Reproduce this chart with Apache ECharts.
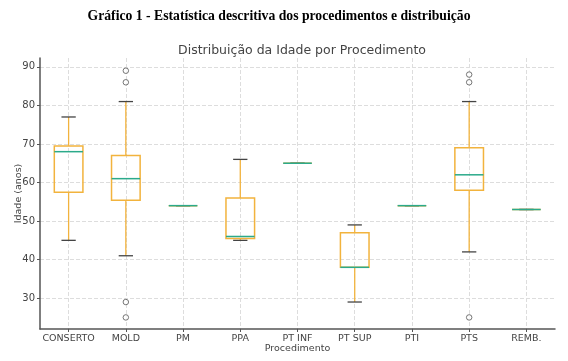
<!DOCTYPE html>
<html>
<head>
<meta charset="utf-8">
<script src="https://cdn.jsdelivr.net/npm/echarts@6/dist/echarts.min.js"></script>
<style>html,body{margin:0;padding:0;background:#fff}#c{width:568px;height:361px}</style>
</head>
<body>
<div id="c"></div>
<script>
var categories = ['CONSERTO','MOLD','PM','PPA','PT INF','PT SUP','PTI','PTS','REMB.'];
// [lower whisker, Q1, median, Q3, upper whisker]
var boxStats = [
  [45, 57.5, 68, 69.5, 77],
  [41, 55.4, 61, 67, 81],
  [54, 54, 54, 54, 54],
  [45, 45.5, 46, 56, 66],
  [65, 65, 65, 65, 65],
  [29, 38, 38, 47, 49],
  [54, 54, 54, 54, 54],
  [42, 58, 62, 69, 81],
  [53, 53, 53, 53, 53]
];
// outliers: [category index, value]
var outliers = [[1, 89], [1, 86], [1, 29], [1, 25], [7, 88], [7, 86], [7, 25]];
var yTicks = [30, 40, 50, 60, 70, 80, 90];
var xTicks = categories.map(function (c, i) { return i; });

var boxData = boxStats.map(function (s, i) { return [i].concat(s); });

var chart = echarts.init(document.getElementById('c'));
var BOX = '#F2B33D', MED = '#2BAA8A', CAP = '#444';
chart.setOption({
  animation: false,
  title: [
    { text: 'Gráfico 1 - Estatística descritiva dos procedimentos e distribuição', left: 274, textAlign: 'center', top: 4,
      textStyle: { fontFamily: 'Liberation Serif', fontWeight: 'bold', fontSize: 13.7, color: '#000' } },
    { text: 'Distribuição da Idade por Procedimento', left: 297, textAlign: 'center', top: 39,
      textStyle: { fontFamily: 'DejaVu Sans', fontWeight: 'normal', fontSize: 12.5, color: '#444' } }
  ],
  grid: { left: 40, right: 13, top: 58, bottom: 32, containLabel: false, outerBoundsMode: 'none' },
  xAxis: {
    type: 'value', min: -0.5, max: 8.5,
    name: 'Procedimento', nameLocation: 'middle', nameGap: 15, nameMoveOverlap: false,
    nameTextStyle: { fontFamily: 'DejaVu Sans', fontSize: 9.5, color: '#444' },
    axisLine: { onZero: false, lineStyle: { color: '#555', width: 1.5 } },
    axisTick: { show: true, length: 3, customValues: xTicks, lineStyle: { color: '#555' } },
    axisLabel: { fontFamily: 'DejaVu Sans', fontSize: 9.5, color: '#444', margin: 5, customValues: xTicks,
      formatter: function (v) { return categories[Math.round(v)] || ''; } },
    splitLine: { show: true, lineStyle: { color: '#ddd', type: 'dashed', width: 1 } }
  },
  yAxis: {
    type: 'value', min: 22, max: 92.3,
    name: 'Idade (anos)', nameLocation: 'middle', nameGap: 16, nameMoveOverlap: false,
    nameTextStyle: { fontFamily: 'DejaVu Sans', fontSize: 9.5, color: '#444' },
    axisLine: { show: true, onZero: false, lineStyle: { color: '#555', width: 1.5 } },
    axisTick: { show: true, length: 3, customValues: yTicks, lineStyle: { color: '#555' } },
    axisLabel: { fontFamily: 'DejaVu Sans', fontSize: 10, color: '#444', margin: 5, customValues: yTicks },
    splitLine: { show: true, lineStyle: { color: '#ddd', type: 'dashed', width: 1 } }
  },
  series: [
    {
      type: 'custom',
      data: boxData,
      encode: { x: 0, y: [1, 2, 3, 4, 5] },
      renderItem: function (params, api) {
        var x = api.value(0);
        var lo = api.coord([x, api.value(1)]);
        var q1 = api.coord([x, api.value(2)]);
        var md = api.coord([x, api.value(3)]);
        var q3 = api.coord([x, api.value(4)]);
        var hi = api.coord([x, api.value(5)]);
        var bw = api.size([1, 0])[0] * 0.5;
        var cw = bw * 0.5;
        var cx = md[0];
        return {
          type: 'group',
          children: [
            { type: 'line', shape: { x1: cx, y1: q1[1], x2: cx, y2: lo[1] }, style: { stroke: BOX, lineWidth: 1.3 } },
            { type: 'line', shape: { x1: cx, y1: q3[1], x2: cx, y2: hi[1] }, style: { stroke: BOX, lineWidth: 1.3 } },
            { type: 'line', shape: { x1: cx - cw / 2, y1: lo[1], x2: cx + cw / 2, y2: lo[1] }, style: { stroke: CAP, lineWidth: 1.3 } },
            { type: 'line', shape: { x1: cx - cw / 2, y1: hi[1], x2: cx + cw / 2, y2: hi[1] }, style: { stroke: CAP, lineWidth: 1.3 } },
            { type: 'rect', shape: { x: cx - bw / 2, y: q3[1], width: bw, height: q1[1] - q3[1] }, style: { fill: 'none', stroke: BOX, lineWidth: 1.5 } },
            { type: 'line', shape: { x1: cx - bw / 2, y1: md[1], x2: cx + bw / 2, y2: md[1] }, style: { stroke: MED, lineWidth: 1.5 } }
          ]
        };
      }
    },
    {
      type: 'scatter',
      data: outliers,
      symbol: 'circle',
      symbolSize: 5.5,
      itemStyle: { color: '#fff', borderColor: '#555', borderWidth: 1 }
    }
  ]
});
</script>
</body>
</html>
